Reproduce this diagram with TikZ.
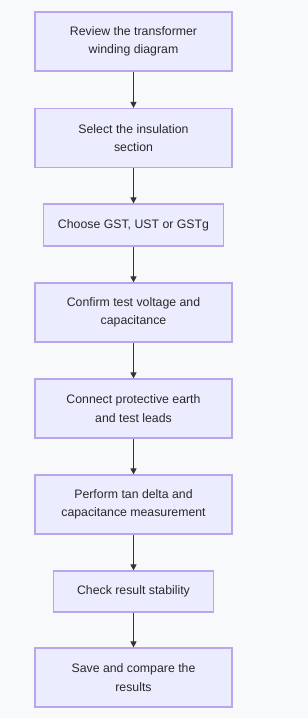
\documentclass[tikz,border=0pt]{standalone}
\usepackage{fontspec}
\setmainfont{Liberation Sans}
\usetikzlibrary{arrows.meta}
\definecolor{bg}{HTML}{F8F9FA}
\definecolor{boxfill}{HTML}{ECECFF}
\definecolor{boxline}{HTML}{BBA5EC}
\definecolor{arrowc}{HTML}{333333}
\tikzset{
  stepbox/.style={draw=boxline, fill=boxfill, line width=1.2pt, align=center,
    inner sep=0pt, minimum width=197pt, minimum height=59pt,
    font=\fontsize{12.3pt}{18.5pt}\selectfont, text=arrowc!80!black},
  flowarrow/.style={draw=arrowc, line width=0.9pt, -{Triangle[length=6pt,width=6pt]}}
}
\begin{document}
\begin{tikzpicture}[x=1pt,y=1pt]
\fill[bg] (0,0) rectangle (308,-718);
\useasboundingbox (0,0) rectangle (308,-718);
\node[stepbox] (n1) at (133.5,-41.5) {Review the transformer\\winding diagram};
\node[stepbox] (n2) at (133.5,-138) {Select the insulation\\section};
\node[stepbox, minimum width=180pt, minimum height=42pt] (n3) at (133.5,-225) {Choose GST, UST or GSTg};
\node[stepbox] (n4) at (133.5,-312.5) {Confirm test voltage and\\capacitance};
\node[stepbox] (n5) at (133.5,-408.5) {Connect protective earth\\and test leads};
\node[stepbox] (n6) at (133.5,-504.5) {Perform tan delta and\\capacitance measurement};
\node[stepbox, minimum width=160pt, minimum height=41pt] (n7) at (133.5,-591.5) {Check result stability};
\node[stepbox] (n8) at (133.5,-677.5) {Save and compare the\\results};
\foreach \a/\b in {n1/n2,n2/n3,n3/n4,n4/n5,n5/n6,n6/n7,n7/n8}
  \draw[flowarrow] (\a.south) -- (\b.north);
\end{tikzpicture}
\end{document}
